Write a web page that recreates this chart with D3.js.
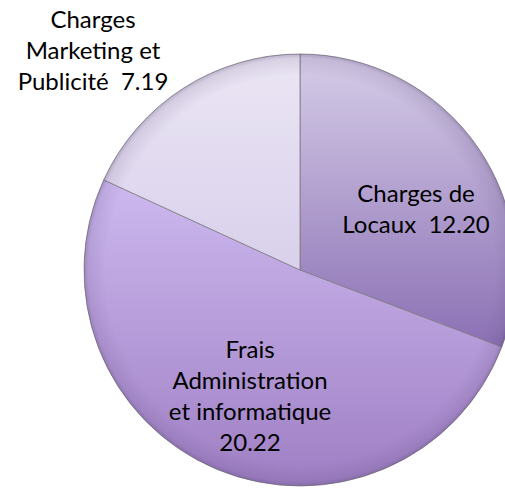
<!DOCTYPE html>
<meta charset="utf-8">
<head>
    <style>
    body { margin: 0; background: #fff; }
    .label {
        font-family: Lato, "Open Sans", sans-serif;
        font-size: 24px;
        fill: #000;
        text-anchor: middle;
        white-space: pre;
    }
    .slice {
        stroke: #7d7a82;
        stroke-width: 0.8px;
    }
    </style>
</head>
<body>
    <script src="https://d3js.org/d3.v7.min.js"></script>
    <script>
    // data
    var categories = ["Charges de Locaux", "Frais Administration et informatique", "Charges Marketing et Publicité"];
    var values = [12.20, 20.22, 7.19];
    // label lines (category text wrapped as in the original, value appended)
    var labelLines = [
        ["Charges de", "Locaux  12.20"],
        ["Frais", "Administration", "et informatique", "20.22"],
        ["Charges", "Marketing et", "Publicité  7.19"]
    ];

    // layout
    var width = 505, height = 491;
    var cx = 300, cy = 270, radius = 216;
    var lineHeight = 31;
    // where each label sits: distance from centre and angle shift from slice middle
    var labelRadius = [131, 136, 302];
    var labelShift = [6.9, -1.2, -10.6]; // degrees

    // gradient colours per slice (top -> bottom)
    var sliceTop = ["#d6cde8", "#cdb9ef", "#ebe6f5"];
    var sliceBottom = ["#8b70b4", "#9f7fc4", "#d9d0eb"];

    var svg = d3.select("body").append("svg")
        .attr("width", width)
        .attr("height", height);

    var defs = svg.append("defs");
    values.forEach(function(v, i) {
        var g = defs.append("linearGradient")
            .attr("id", "grad" + i)
            .attr("x1", 0).attr("y1", 0)
            .attr("x2", 0).attr("y2", 1);
        g.append("stop").attr("offset", "0%").attr("stop-color", sliceTop[i]);
        g.append("stop").attr("offset", "100%").attr("stop-color", sliceBottom[i]);
    });

    // soft rim to give the bevel look
    var rim = defs.append("radialGradient").attr("id", "rim");
    rim.append("stop").attr("offset", "90%").attr("stop-color", "#4a3a66").attr("stop-opacity", 0);
    rim.append("stop").attr("offset", "98%").attr("stop-color", "#4a3a66").attr("stop-opacity", 0.12);
    rim.append("stop").attr("offset", "100%").attr("stop-color", "#4a3a66").attr("stop-opacity", 0.3);

    var pie = d3.pie().sort(null).value(function(d) { return d; });
    var arcs = pie(values);

    var arc = d3.arc().innerRadius(0).outerRadius(radius);

    var g = svg.append("g")
        .attr("transform", "translate(" + cx + "," + cy + ")");

    g.selectAll("path.slice")
        .data(arcs)
        .enter().append("path")
        .attr("class", "slice")
        .attr("d", arc)
        .attr("fill", function(d, i) { return "url(#grad" + i + ")"; });

    g.append("circle")
        .attr("r", radius)
        .attr("fill", "url(#rim)")
        .attr("pointer-events", "none");

    // labels
    arcs.forEach(function(d, i) {
        var mid = (d.startAngle + d.endAngle) / 2 + labelShift[i] * Math.PI / 180;
        var x = Math.sin(mid) * labelRadius[i];
        var y = -Math.cos(mid) * labelRadius[i];
        var lines = labelLines[i];
        var t = g.append("text")
            .attr("class", "label")
            .attr("transform", "translate(" + x + "," + y + ")");
        lines.forEach(function(line, j) {
            t.append("tspan")
                .attr("x", 0)
                .attr("y", (j - (lines.length - 1) / 2) * lineHeight)
                .attr("dy", "0.35em")
                .text(line);
        });
    });
    </script>
</body>
</html>
